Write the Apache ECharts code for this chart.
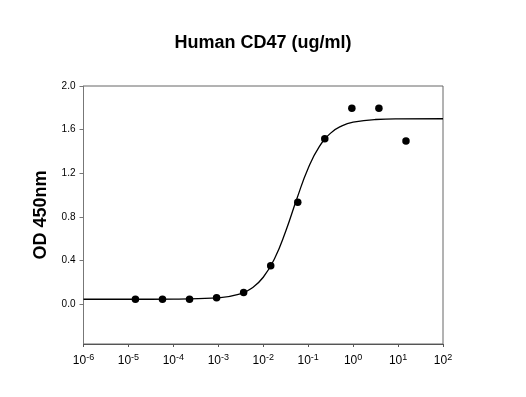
<!DOCTYPE html>
<html>
<head>
    <meta charset="utf-8">
    <script src="https://cdn.jsdelivr.net/npm/echarts@6/dist/echarts.min.js"></script>
    <title>Human CD47</title>
    <style>
        html, body { margin: 0; padding: 0; background: #fff; }
        #main { width: 526px; height: 397px; }
    </style>
</head>
<body>
<div id="main"></div>
<script type="text/javascript">
    // measured points (concentration ug/ml, OD 450nm)
    var conc = [1.43e-5, 5.72e-5, 2.29e-4, 9.16e-4, 3.66e-3, 1.465e-2, 5.86e-2, 0.234, 0.9375, 3.75, 15];
    var od = [0.046, 0.046, 0.046, 0.06, 0.107, 0.353, 0.934, 1.516, 1.796, 1.796, 1.495];

    // fitted curve
    var curveX = [1e-6, 1e-5, 1e-4, 1e-3, 3.16e-3, 5.62e-3, 1e-2, 1.78e-2, 3.16e-2, 5.62e-2, 0.1, 0.178, 0.316, 0.562, 1, 3.16, 10, 100];
    var curveY = [0.045, 0.045, 0.046, 0.057, 0.096, 0.148, 0.247, 0.417, 0.669, 0.969, 1.246, 1.446, 1.568, 1.634, 1.668, 1.693, 1.699, 1.70];

    var xTicks = [1e-6, 1e-5, 1e-4, 1e-3, 1e-2, 1e-1, 1, 10, 100];
    var yTicks = [0, 0.4, 0.8, 1.2, 1.6, 2.0];

    var pts = [], line = [];
    for (var i = 0; i < conc.length; i++) pts.push([conc[i], od[i]]);
    for (var j = 0; j < curveX.length; j++) line.push([curveX[j], curveY[j]]);

    var myChart = echarts.init(document.getElementById('main'));
    var option = {
        backgroundColor: '#fff',
        animation: false,
        title: {
            text: 'Human CD47 (ug/ml)',
            left: 'center',
            top: 29,
            textStyle: { fontFamily: 'Liberation Sans', fontSize: 18, fontWeight: 'bold', color: '#000' }
        },
        grid: { left: 83.5, right: 83, top: 86, bottom: 53, show: true, borderColor: '#666', borderWidth: 1 },
        xAxis: {
            type: 'log',
            logBase: 10,
            min: 1e-6,
            max: 100,
            axisLine: { onZero: false, lineStyle: { color: '#555' } },
            axisTick: { length: 3, lineStyle: { color: '#555' }, customValues: xTicks },
            splitLine: { show: false },
            axisLabel: {
                margin: 9,
                customValues: xTicks,
                formatter: function (v) {
                    var e = Math.round(Math.log10(v));
                    return '{b|10}{s|' + e + '}';
                },
                rich: {
                    b: { fontFamily: 'Liberation Sans', fontSize: 12, color: '#000' },
                    s: { fontFamily: 'Liberation Sans', fontSize: 9, color: '#000', verticalAlign: 'top', padding: [0, 0, 6, 0] }
                }
            }
        },
        yAxis: {
            type: 'value',
            min: -0.365,
            max: 2.0,
            name: 'OD 450nm',
            nameLocation: 'middle',
            nameGap: 33,
            nameTextStyle: { fontFamily: 'Liberation Sans', fontSize: 18, fontWeight: 'bold', color: '#000' },
            axisLine: { show: true, onZero: false, lineStyle: { color: '#777' } },
            axisTick: { show: true, length: 4, lineStyle: { color: '#777' }, customValues: yTicks },
            splitLine: { show: false },
            axisLabel: {
                margin: 8,
                customValues: yTicks,
                fontFamily: 'Liberation Sans',
                fontSize: 10,
                color: '#000',
                formatter: function (v) { return v.toFixed(1); }
            }
        },
        series: [{
            type: 'line',
            data: line,
            smooth: true,
            showSymbol: false,
            lineStyle: { color: '#000', width: 1.3 }
        }, {
            type: 'scatter',
            data: pts,
            symbol: 'circle',
            symbolSize: 7.5,
            itemStyle: { color: '#000', opacity: 1 }
        }]
    };
    myChart.setOption(option);
</script>
</body>
</html>
